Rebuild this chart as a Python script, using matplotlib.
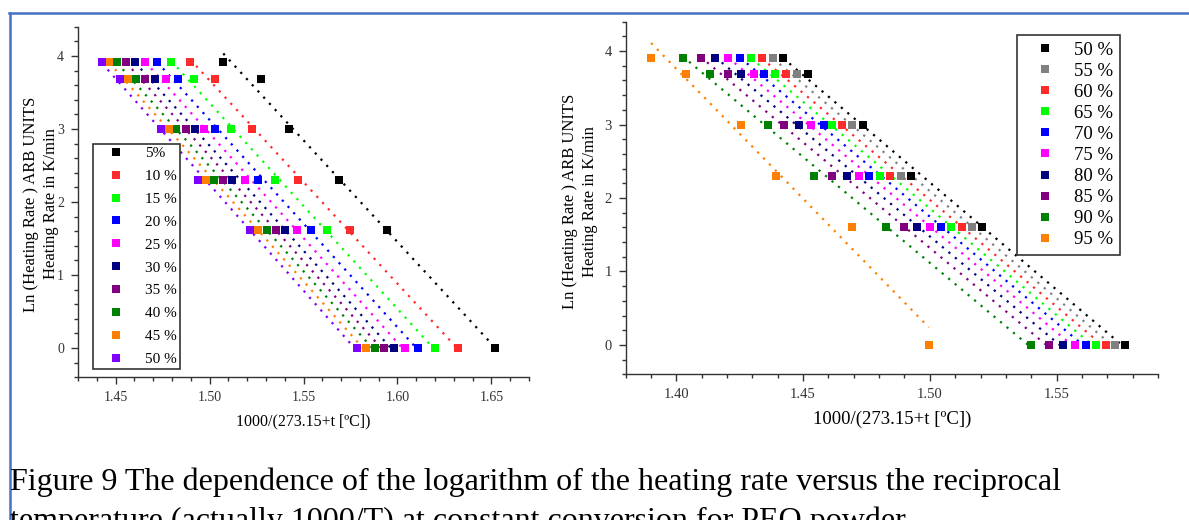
import numpy as np
import matplotlib.pyplot as plt
from matplotlib.lines import Line2D
from matplotlib.ticker import MultipleLocator

plt.rcParams['font.family'] = 'serif'
plt.rcParams['font.serif'] = ['Liberation Serif', 'DejaVu Serif']

# ln of heating rate (K/min) for the six runs
ln_rate = [3.91, 3.69, 3.00, 2.30, 1.61, 0.00]

# left panel: conversion 5 % .. 50 %
left_labels = ['5%', '10 %', '15 %', '20 %', '25 %', '30 %', '35 %', '40 %', '45 %', '50 %']
left_colors = ['#000000', '#ff2a2a', '#00ff00', '#0000ff', '#ff00ff',
               '#000080', '#800080', '#008000', '#ff8000', '#8000ff']
left_x = [
    [1.5073, 1.5273, 1.5422, 1.5687, 1.5944, 1.6520],
    [1.4898, 1.5030, 1.5224, 1.5469, 1.5746, 1.6321],
    [1.4797, 1.4918, 1.5112, 1.5346, 1.5624, 1.6199],
    [1.4722, 1.4834, 1.5030, 1.5256, 1.5540, 1.6110],
    [1.4659, 1.4769, 1.4969, 1.5189, 1.5465, 1.6038],
    [1.4604, 1.4710, 1.4920, 1.5122, 1.5403, 1.5979],
    [1.4557, 1.4659, 1.4873, 1.5071, 1.5353, 1.5928],
    [1.4508, 1.4610, 1.4822, 1.5022, 1.5305, 1.5881],
    [1.4467, 1.4567, 1.4782, 1.4979, 1.5256, 1.5832],
    [1.4428, 1.4524, 1.4741, 1.4936, 1.5214, 1.5787],
]

# right panel: conversion 50 % .. 95 %
right_labels = ['50 %', '55 %', '60 %', '65 %', '70 %', '75 %', '80 %', '85 %', '90 %', '95 %']
right_colors = ['#000000', '#808080', '#ff2a2a', '#00ff00', '#0000ff',
                '#ff00ff', '#000080', '#800080', '#008000', '#ff8000']
right_x = [
    [1.4421, 1.4519, 1.4735, 1.4927, 1.5205, 1.5771],
    [1.4382, 1.4478, 1.4692, 1.4885, 1.5166, 1.5732],
    [1.4338, 1.4433, 1.4653, 1.4844, 1.5126, 1.5693],
    [1.4296, 1.4391, 1.4614, 1.4805, 1.5084, 1.5654],
    [1.4253, 1.4347, 1.4582, 1.4762, 1.5045, 1.5617],
    [1.4205, 1.4305, 1.4530, 1.4719, 1.5001, 1.5573],
    [1.4154, 1.4256, 1.4484, 1.4674, 1.4951, 1.5525],
    [1.4096, 1.4204, 1.4425, 1.4614, 1.4900, 1.5472],
    [1.4025, 1.4135, 1.4362, 1.4543, 1.4829, 1.5400],
    [1.3901, 1.4039, 1.4257, 1.4392, 1.4693, 1.4996],
]

W, H = 1189, 520
fig = plt.figure(figsize=(W / 100, H / 100), dpi=100)


def px_axes(x0, y0, x1, y1):
    # pixel box (top-left origin) -> figure fraction
    return fig.add_axes([x0 / W, 1 - y1 / H, (x1 - x0) / W, (y1 - y0) / H])


def panel(ax, xs, colors, labels, xlim, tick_fs):
    y = np.array(ln_rate)
    handles = []
    for x, c, lab in zip(xs, colors, labels):
        x = np.array(x)
        p = np.polyfit(x, y, 1)
        xx = np.linspace(x.min(), x.max(), 50)
        ax.plot(xx, np.polyval(p, xx), ls=(0, (1.0, 2.8)), lw=1.6, color=c, zorder=2)
        h, = ax.plot(x, y, 's', ms=6, mew=0, color=c, zorder=3, label=lab)
        handles.append(h)
    ax.set_xlim(*xlim)
    ax.set_ylim(-0.4, 4.4)
    ax.xaxis.set_major_locator(MultipleLocator(0.05))
    ax.xaxis.set_minor_locator(MultipleLocator(0.01))
    ax.yaxis.set_major_locator(MultipleLocator(1))
    ax.yaxis.set_minor_locator(MultipleLocator(0.2))
    ax.xaxis.set_major_formatter(lambda v, pos: f'{v:.2f}')
    ax.yaxis.set_major_formatter(lambda v, pos: f'{v:.0f}')
    for s in ['top', 'right']:
        ax.spines[s].set_visible(False)
    for s in ['left', 'bottom']:
        ax.spines[s].set_color('#333333')
        ax.spines[s].set_linewidth(1.0)
    ax.tick_params(which='major', direction='out', length=5, width=1,
                   color='#333333', labelcolor='#333333', labelsize=tick_fs, pad=5)
    ax.tick_params(which='minor', direction='out', length=3, width=1, color='#333333')
    ax.patch.set_alpha(0)
    return handles


ylab = 'Ln (Heating Rate ) ARB UNITS\nHeating Rate in K/min'
xlab = '1000/(273.15+t [\u00baC])'

# left panel
ax1 = px_axes(78, 26.7, 529, 377.3)
h1 = panel(ax1, left_x, left_colors, left_labels, (1.43, 1.67), 10)
leg1 = ax1.legend(handles=h1, loc='upper left', bbox_to_anchor=(92.6 / W, 1 - 143.5 / H),
                  bbox_transform=fig.transFigure, borderaxespad=0, fontsize=11,
                  frameon=True, fancybox=False, framealpha=1, edgecolor='#333333',
                  handlelength=2.6, handletextpad=0.65, borderpad=0.2, labelspacing=0.6,
                  numpoints=1)
leg1.get_frame().set_linewidth(1.2)
fig.text(303.5 / W, 1 - 421 / H, xlab, ha='center', va='center', fontsize=11.5)
fig.text(41 / W, 1 - 204 / H, ylab, ha='center', va='center', rotation=90,
         fontsize=12, linespacing=1.35, multialignment='center')

# right panel
ax2 = px_axes(625.5, 21.7, 1158, 374.3)
h2 = panel(ax2, right_x, right_colors, right_labels, (1.38, 1.59), 10.5)
leg2 = ax2.legend(handles=h2, loc='upper left', bbox_to_anchor=(1017 / W, 1 - 35 / H),
                  bbox_transform=fig.transFigure, borderaxespad=0, fontsize=13.5,
                  frameon=True, fancybox=False, framealpha=1, edgecolor='#333333',
                  handlelength=2.26, handletextpad=0.45, borderpad=0.35, labelspacing=0.21,
                  numpoints=1)
leg2.get_frame().set_linewidth(1.2)
fig.text(891.7 / W, 1 - 419.5 / H, xlab, ha='center', va='center', fontsize=13.5)
fig.text(580 / W, 1 - 201.5 / H, ylab, ha='center', va='center', rotation=90,
         fontsize=12, linespacing=1.35, multialignment='center')

# caption
fig.text(10 / W, 1 - 490 / H,
         'Figure 9 The dependence of the logarithm of the heating rate versus the reciprocal',
         ha='left', va='baseline', fontsize=23)
fig.text(10 / W, 1 - 529 / H,
         'temperature (actually 1000/T) at constant conversion for PEO powder',
         ha='left', va='baseline', fontsize=23)

# page frame (blue)
fig.add_artist(Line2D([9 / W, 1], [1 - 13 / H, 1 - 13 / H], color='#4472c4', lw=1.8))
fig.add_artist(Line2D([10 / W, 10 / W], [0, 1 - 13 / H], color='#4472c4', lw=1.8))

fig.savefig('out.png', dpi=100)
